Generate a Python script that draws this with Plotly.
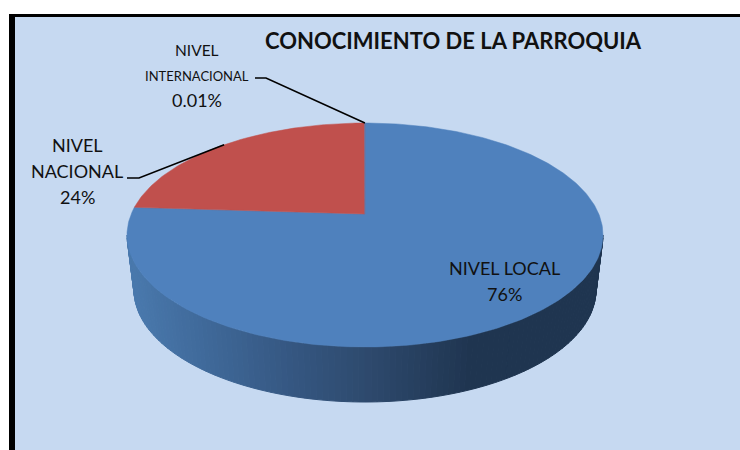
import math
import plotly.graph_objects as go

# ---- data ----
categories = ["NIVEL LOCAL", "NIVEL NACIONAL", "NIVEL INTERNACIONAL"]
values = [76, 24, 0.01]
percent_labels = ["76%", "24%", "0.01%"]
slice_colors = ["#4f81bd", "#c0504d", "#4f81bd"]
title_text = "CONOCIMIENTO DE LA PARROQUIA"

# ---- layout geometry (pixels of the 740x450 page) ----
CX, CY, RX, RY = 365, 235, 238, 112
BCY, BRX = 290, 231          # bottom rim of the disc
TILT = 0.1875                # perspective shift of the pie's centre
FONT = "Lato"
TEXT = "#111111"
BG = "#c6d9f1"


def project(turn):
    """Fraction of a clockwise turn from 12 o'clock -> page point on the tilted disc."""
    a = turn * 2 * math.pi
    u, v = math.sin(a), math.cos(a)
    d = 1 + TILT * v
    return (CX + RX * u * math.sqrt(1 - TILT ** 2) / d, CY - RY * (v + TILT) / d)


total = sum(values)
edges = [0]
for val in values:
    edges.append(edges[-1] + val / total)
apex = (CX, CY - RY * TILT)


def wedge(t0, t1):
    n = max(2, int((t1 - t0) * 400))
    pts = [project(t0 + (t1 - t0) * i / n) for i in range(n + 1)]
    xs = [apex[0]] + [p[0] for p in pts] + [apex[0]]
    ys = [apex[1]] + [p[1] for p in pts] + [apex[1]]
    return xs, ys


def lerp_color(x):
    stops = [(128, (74, 122, 174)), (200, (64, 106, 155)), (300, (52, 85, 127)),
             (365, (46, 74, 110)), (470, (31, 53, 80)), (602, (31, 53, 80))]
    for (x0, c0), (x1, c1) in zip(stops, stops[1:]):
        if x <= x1:
            f = max(0, (x - x0) / (x1 - x0))
            return "rgb(%d,%d,%d)" % tuple(round(a + (b - a) * f) for a, b in zip(c0, c1))
    return "rgb(31,53,80)"


fig = go.Figure()

# side wall of the disc, drawn in vertical strips for the shading
N = 120
for i in range(N):
    a0, a1 = math.pi * i / N, math.pi * (i + 1) / N
    xs = [CX + RX * math.cos(a0), CX + RX * math.cos(a1),
          CX + BRX * math.cos(a1), CX + BRX * math.cos(a0)]
    ys = [CY + RY * math.sin(a0), CY + RY * math.sin(a1),
          BCY + RY * math.sin(a1), BCY + RY * math.sin(a0)]
    col = lerp_color(sum(xs) / 4)
    fig.add_trace(go.Scatter(x=xs + xs[:1], y=ys + ys[:1], mode="lines", fill="toself",
                             fillcolor=col, line=dict(color=col, width=1),
                             hoverinfo="skip", showlegend=False))

# top face
for i, cat in enumerate(categories):
    xs, ys = wedge(edges[i], edges[i + 1])
    fig.add_trace(go.Scatter(x=xs, y=ys, mode="lines", fill="toself", name=cat,
                             fillcolor=slice_colors[i],
                             line=dict(color=slice_colors[i], width=0.5),
                             hoverinfo="name", showlegend=False))

# leader lines end on their slices
mid_nat = project((edges[1] + edges[2]) / 2)
mid_int = project((edges[2] + edges[3]) / 2)
for pts in ([(127, 178), (139, 178), mid_nat], [(255, 78), (266, 78), mid_int]):
    fig.add_trace(go.Scatter(x=[p[0] for p in pts], y=[p[1] for p in pts], mode="lines",
                             line=dict(color="#000000", width=1.6),
                             hoverinfo="skip", showlegend=False))


def text(x, y, s, size, bold=False):
    fig.add_annotation(x=x, y=y, xref="x", yref="y", text=f"<b>{s}</b>" if bold else s,
                       showarrow=False, xanchor="center", yanchor="middle",
                       font=dict(family=FONT, size=size, color=TEXT))


text(453, 40, title_text, 22, bold=True)
text(197, 50, "NIVEL", 15.5)
text(197, 76, "INTERNACIONAL", 13)
text(197, 100, percent_labels[2], 18)
text(77, 145, "NIVEL", 18)
text(77, 171, "NACIONAL", 18)
text(77, 197, percent_labels[1], 18)
text(504, 268, categories[0], 18)
text(504, 294, percent_labels[0], 18)

fig.update_layout(
    width=740, height=450, margin=dict(l=0, r=0, t=0, b=0),
    paper_bgcolor="#ffffff", plot_bgcolor="#ffffff", showlegend=False,
    xaxis=dict(range=[0, 740], visible=False, fixedrange=True),
    yaxis=dict(range=[450, 0], visible=False, fixedrange=True),
    shapes=[
        dict(type="rect", layer="below", xref="x", yref="y", x0=15, x1=740, y0=17, y1=450,
             fillcolor=BG, line_width=0),
        dict(type="rect", layer="below", xref="x", yref="y", x0=9, x1=15, y0=14, y1=450,
             fillcolor="#000000", line_width=0),
        dict(type="rect", layer="below", xref="x", yref="y", x0=9, x1=740, y0=14, y1=17,
             fillcolor="#000000", line_width=0),
    ],
)

fig.write_html("out.html", config={"displayModeBar": False},
               post_script="document.body.style.margin='0';document.body.style.overflow='hidden';")
